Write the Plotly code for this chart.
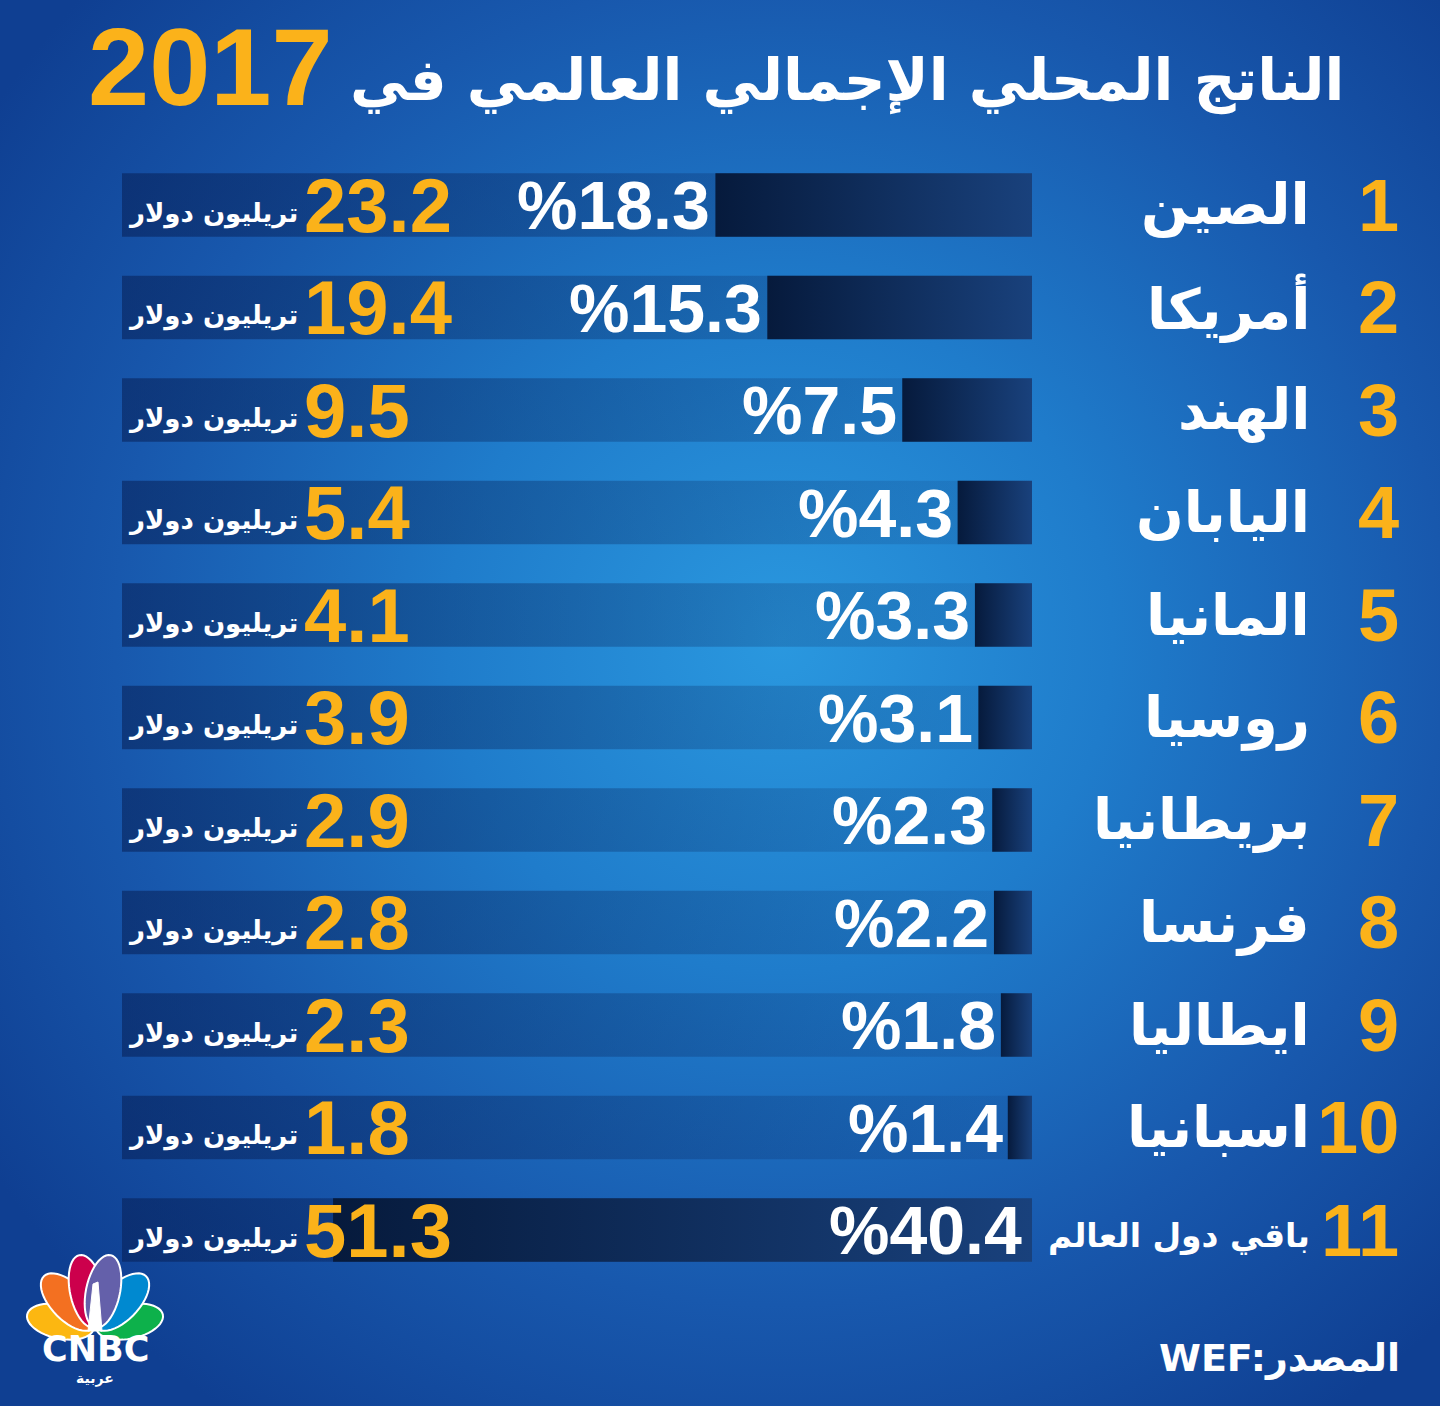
import base64
import numpy as np
import plotly.graph_objects as go

W, H = 1440, 1406

# ---- data ----
ranks = [1, 2, 3, 4, 5, 6, 7, 8, 9, 10, 11]
countries = ["الصين", "أمريكا", "الهند", "اليابان", "المانيا", "روسيا",
             "بريطانيا", "فرنسا", "ايطاليا", "اسبانيا", "باقي دول العالم"]
share_pct = [18.3, 15.3, 7.5, 4.3, 3.3, 3.1, 2.3, 2.2, 1.8, 1.4, 40.4]
gdp_trillion = [23.2, 19.4, 9.5, 5.4, 4.1, 3.9, 2.9, 2.8, 2.3, 1.8, 51.3]

title_text = "الناتج المحلي الإجمالي العالمي في"
title_year = "2017"
unit_text = "تريليون دولار"
source_text = "WEF:المصدر"
logo_text = "CNBC"
logo_sub = "عربية"

GOLD = "#FBB21A"
WHITE = "#FFFFFF"
NUM_FONT = "Liberation Sans, Arial, sans-serif"
AR_FONT = "DejaVu Sans, sans-serif"

X_MAX = 52.6          # axis extent (share %), reversed so bars grow leftwards
BAR_H = 0.31


def px(x):
    return x / W


def py(y):
    return 1 - y / H


fig = go.Figure()

# tracks + share bars
for r, pct, name in zip(ranks, share_pct, countries):
    y0, y1 = r - BAR_H, r + BAR_H
    fig.add_trace(go.Scatter(
        x=[0, X_MAX, X_MAX, 0, 0], y=[y0, y0, y1, y1, y0],
        mode="none", fill="toself",
        fillgradient=dict(type="horizontal",
                          colorscale=[[0, "rgba(6,30,84,0.55)"], [1, "rgba(6,30,84,0.08)"]]),
        hoverinfo="skip", showlegend=False))
    fig.add_trace(go.Scatter(
        x=[0, pct, pct, 0, 0], y=[y0, y0, y1, y1, y0],
        mode="none", fill="toself",
        fillgradient=dict(type="horizontal",
                          colorscale=[[0, "#061a3c"], [1, "#19417c"]]),
        name=name, hoveron="fills", showlegend=False))

ann = []
for r, pct, gdp, name in zip(ranks, share_pct, gdp_trillion, countries):
    last = r == ranks[-1]
    ann.append(dict(x=px(1401), y=r, xref="paper", yref="y", text=str(r),
                    xanchor="right", yanchor="middle", showarrow=False,
                    font=dict(family=NUM_FONT, size=74, color=GOLD, weight="bold")))
    ann.append(dict(x=px(1312), y=r, xref="paper", yref="y", text=name,
                    xanchor="right", yanchor="middle", showarrow=False, yshift=-6 if last else 0,
                    font=dict(family=AR_FONT, size=33 if last else 56, color=WHITE, weight="bold")))
    if pct > 30:
        ann.append(dict(x=0, y=r, xref="x", yref="y", text="%" + str(pct),
                        xanchor="right", yanchor="middle", showarrow=False, xshift=-8,
                        font=dict(family=NUM_FONT, size=68, color=WHITE, weight="bold")))
    else:
        ann.append(dict(x=pct, y=r, xref="x", yref="y", text="%" + str(pct),
                        xanchor="right", yanchor="middle", showarrow=False, xshift=-3,
                        font=dict(family=NUM_FONT, size=68, color=WHITE, weight="bold")))
    ann.append(dict(x=px(302), y=r, xref="paper", yref="y", text=str(gdp),
                    xanchor="left", yanchor="middle", showarrow=False,
                    font=dict(family=NUM_FONT, size=76, color=GOLD, weight="bold")))
    ann.append(dict(x=px(300), y=r, xref="paper", yref="y", text=unit_text,
                    xanchor="right", yanchor="middle", showarrow=False, yshift=-8,
                    font=dict(family=AR_FONT, size=26, color=WHITE, weight="bold")))

# title
ann.append(dict(x=px(1346), y=py(80), xref="paper", yref="paper", text=title_text,
                xanchor="right", yanchor="middle", showarrow=False,
                font=dict(family=AR_FONT, size=58, color=WHITE, weight="bold")))
ann.append(dict(x=px(86), y=py(66), xref="paper", yref="paper", text=title_year,
                xanchor="left", yanchor="middle", showarrow=False,
                font=dict(family=NUM_FONT, size=110, color=GOLD, weight="bold")))
# source
ann.append(dict(x=px(1402), y=py(1358), xref="paper", yref="paper", text=source_text,
                xanchor="right", yanchor="middle", showarrow=False,
                font=dict(family=AR_FONT, size=38, color=WHITE, weight="bold")))
# logo text
ann.append(dict(x=px(95), y=py(1349), xref="paper", yref="paper", text=logo_text,
                xanchor="center", yanchor="middle", showarrow=False,
                font=dict(family=AR_FONT, size=35, color=WHITE, weight="bold")))
ann.append(dict(x=px(95), y=py(1378), xref="paper", yref="paper", text=logo_sub,
                xanchor="center", yanchor="middle", showarrow=False,
                font=dict(family=AR_FONT, size=14, color=WHITE, weight="bold")))


# peacock feathers (logo)
def feather(cx, cy, a, b, ang):
    t = np.linspace(0, 2 * np.pi, 48)
    ca, sa = np.cos(np.radians(ang)), np.sin(np.radians(ang))
    xs = cx + a * np.cos(t) * ca + b * np.sin(t) * sa
    ys = cy - a * np.cos(t) * sa + b * np.sin(t) * ca
    pts = [f"{px(x):.5f},{py(y):.5f}" for x, y in zip(xs, ys)]
    return "M " + " L ".join(pts) + " Z"


base_x, base_y = 95, 1329
feathers = [("#FCB711", 168, 68, 17), ("#0DB14B", 12, 68, 17),
            ("#F37021", 134, 72, 18), ("#0089D0", 46, 72, 18),
            ("#CC004C", 102, 74, 17), ("#6460AA", 78, 74, 17)]
shapes = []
for col, ang, length, half_w in feathers:
    cx = base_x + length * 0.52 * np.cos(np.radians(ang))
    cy = base_y - length * 0.52 * np.sin(np.radians(ang))
    shapes.append(dict(type="path", xref="paper", yref="paper",
                       path=feather(cx, cy, length / 2, half_w, ang),
                       fillcolor=col, line=dict(color=WHITE, width=2)))
shapes.append(dict(type="path", xref="paper", yref="paper",
                   path=f"M {px(88)},{py(1331)} L {px(93)},{py(1284)} L {px(98)},{py(1282)} L {px(102)},{py(1331)} Z",
                   fillcolor=WHITE, line=dict(color=WHITE, width=1)))

# background radial gradient
svg = (
    '<svg xmlns="http://www.w3.org/2000/svg" width="1440" height="1406">'
    '<defs><radialGradient id="g" cx="780" cy="640" r="950" gradientUnits="userSpaceOnUse">'
    '<stop offset="0" stop-color="#2a98df"/><stop offset="0.35" stop-color="#1f7ccb"/>'
    '<stop offset="0.7" stop-color="#1858ad"/><stop offset="1" stop-color="#0f3f92"/>'
    '</radialGradient></defs><rect width="1440" height="1406" fill="url(#g)"/></svg>'
)
bg_src = "data:image/svg+xml;base64," + base64.b64encode(svg.encode()).decode()

fig.update_layout(
    width=W, height=H,
    margin=dict(l=0, r=0, t=0, b=0),
    paper_bgcolor="#1a5fb0", plot_bgcolor="rgba(0,0,0,0)",
    xaxis=dict(domain=[px(122), px(1032)], range=[X_MAX, 0], visible=False, fixedrange=True),
    yaxis=dict(range=[12.717, -1.0], visible=False, fixedrange=True),
    annotations=ann,
    shapes=shapes,
    images=[dict(source=bg_src, xref="paper", yref="paper", x=0, y=1, sizex=1, sizey=1,
                 sizing="stretch", xanchor="left", yanchor="top", layer="below")],
    showlegend=False,
)

fig.write_html("out.html", config={"displayModeBar": False},
               post_script="document.body.style.margin='0';")
